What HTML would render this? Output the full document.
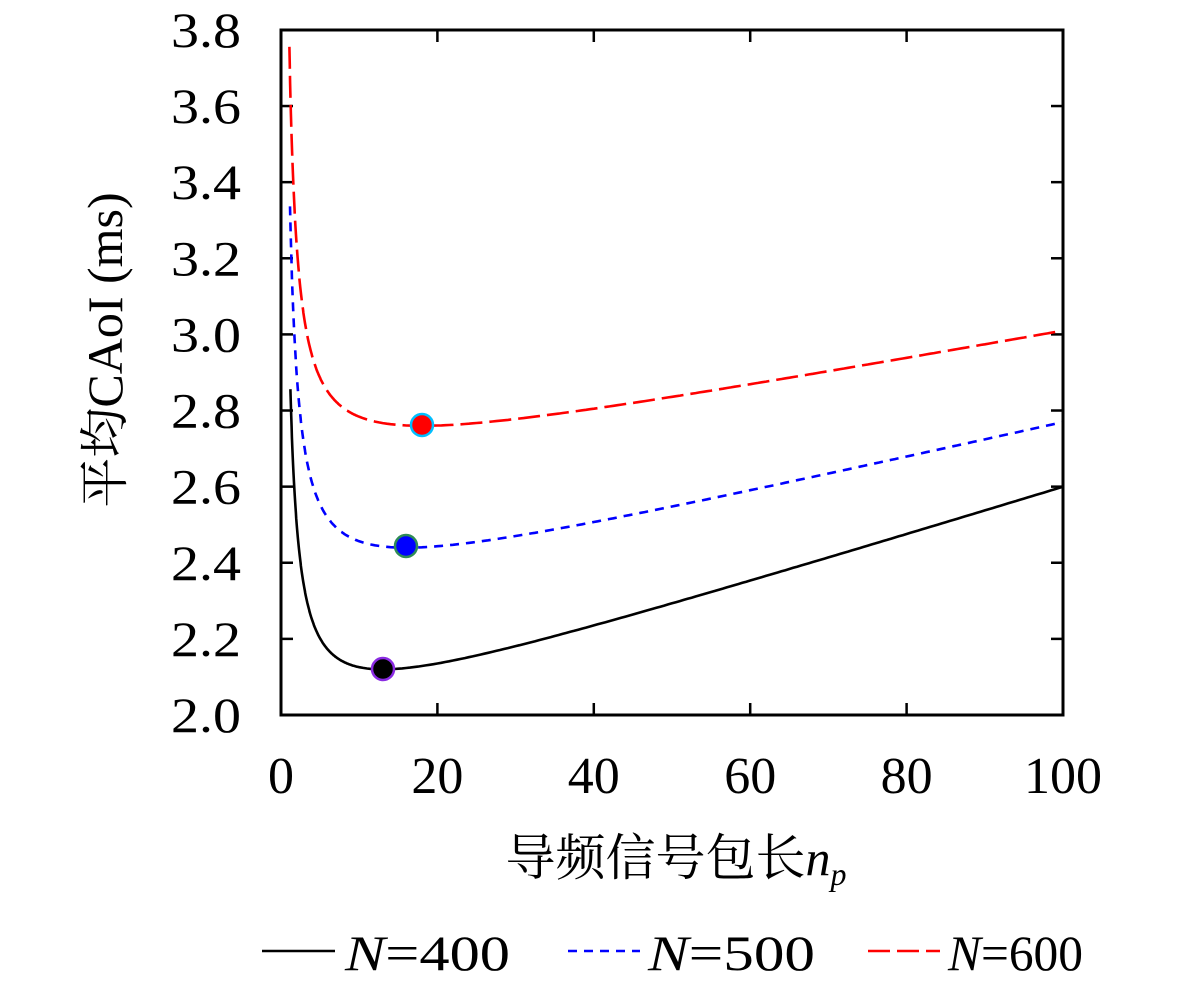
<!DOCTYPE html>
<html><head><meta charset="utf-8"><style>
html,body{margin:0;padding:0;background:#fff;}
svg text{font-family:"Liberation Serif","Noto Serif CJK SC",serif;fill:#000;}
.lg{font-family:"Liberation Serif",serif;}
</style></head><body>
<svg id="s" width="1181" height="979" xmlns="http://www.w3.org/2000/svg">
<rect width="1181" height="979" fill="#fff"/>
<g id="ticks" stroke="#000" stroke-width="2.5"></g>
<g id="curves" fill="none" stroke-width="2.6"></g>
<rect x="281" y="30" width="782" height="685" fill="none" stroke="#000" stroke-width="3"/>
<g font-size="50" text-anchor="end" id="yl"></g>
<g font-size="52" text-anchor="middle" id="xl"></g>
<text x="676" y="875" font-size="50" text-anchor="middle" style="font-family:'Noto Serif CJK SC','Liberation Serif',serif">导频信号包长<tspan font-style="italic" style="font-family:'Liberation Serif',serif">n</tspan><tspan font-style="italic" font-size="32" dy="10" style="font-family:'Liberation Serif',serif">p</tspan></text>
<text transform="translate(122,350) rotate(-90)" font-size="50" text-anchor="middle"><tspan style="font-family:'Noto Serif CJK SC',serif">平均</tspan>CAoI (ms)</text>
<g stroke-width="2.6">
<line x1="262" y1="951" x2="335" y2="951" stroke="#000"/>
<line x1="568" y1="951" x2="640" y2="951" stroke="#0000ff" stroke-dasharray="9,7"/>
<line x1="868" y1="951" x2="940" y2="951" stroke="#ff0000" stroke-dasharray="22,7"/>
</g>
<g font-size="50" class="lg">
<text class="lg" x="345" y="970" textLength="165" lengthAdjust="spacingAndGlyphs"><tspan class="lg" font-style="italic">N</tspan>=400</text>
<text class="lg" x="648" y="970" textLength="167" lengthAdjust="spacingAndGlyphs"><tspan class="lg" font-style="italic">N</tspan>=500</text>
<text class="lg" x="948" y="970" textLength="135" lengthAdjust="spacingAndGlyphs"><tspan class="lg" font-style="italic">N</tspan>=600</text>
</g>
<circle cx="383" cy="669" r="11" fill="#000" stroke="#8a2be2" stroke-width="2.5"/>
<circle cx="406" cy="546" r="11" fill="#0000ff" stroke="#2e8b57" stroke-width="2.5"/>
<circle cx="422" cy="425" r="11" fill="#ff0000" stroke="#00bfff" stroke-width="2.5"/>
</svg>
<script>
var X=function(v){return 281+v*7.82},Y=function(v){return 715-(v-2)*380.6};
var NS="http://www.w3.org/2000/svg";
function el(p,t,a){var e=document.createElementNS(NS,t);for(var k in a)e.setAttribute(k,a[k]);document.getElementById(p).appendChild(e);return e;}
for(var i=0;i<=9;i++){var v=2+i*0.2,y=Y(v);el("ticks","line",{x1:281,y1:y,x2:293,y2:y});el("ticks","line",{x1:1063,y1:y,x2:1051,y2:y});
var t=el("yl","text",{x:241,y:y+17,textLength:70,lengthAdjust:"spacingAndGlyphs"});t.textContent=v.toFixed(1);}
for(var i=0;i<=5;i++){var x=X(i*20);el("ticks","line",{x1:x,y1:715,x2:x,y2:703});el("ticks","line",{x1:x,y1:30,x2:x,y2:42});
var t=el("xl","text",{x:x,y:793});t.textContent=i*20;}
function curve(a,b,c,x0,col,dash){var d="";for(var x=x0;x<=100;x+=(x<10?0.05:0.5)){d+=(d?"L":"M")+X(x).toFixed(1)+","+Y(a/x+b+c*x).toFixed(1);}
var p=el("curves","path",{d:d,stroke:col});if(dash)p.setAttribute("stroke-dasharray",dash);}
curve(1.072,1.955,0.00634,1.2,"#000",null);
curve(1.197,2.290,0.004677,1.15,"#0000ff","9,7");
curve(1.2046,2.626,0.003718,1.07,"#ff0000","22,7");
</script>
</body></html>
